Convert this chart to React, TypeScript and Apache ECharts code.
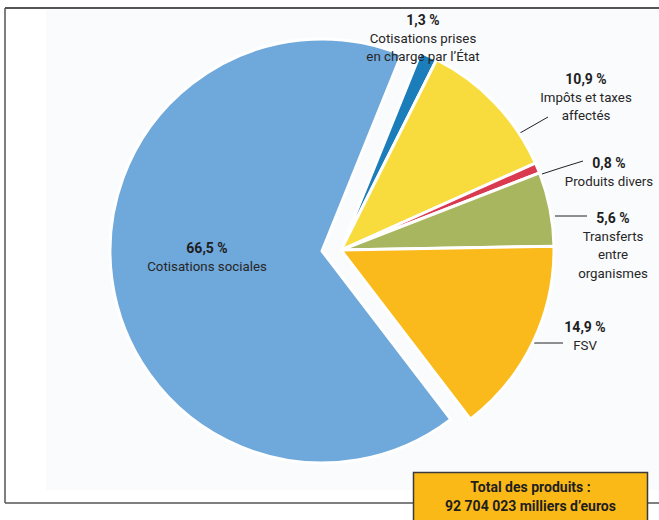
import React, { useEffect, useRef } from "react";
import * as echarts from "echarts";

// ---- data ----
const categories = [
  "Cotisations prises\nen charge par l’État",
  "Impôts et taxes\naffectés",
  "Produits divers",
  "Transferts\nentre\norganismes",
  "FSV",
  "Cotisations sociales",
];
const shares = [1.3, 10.9, 0.8, 5.6, 14.9, 66.5];
const totalLines = ["Total des produits :", "92 704 023 milliers d’euros"];

// ---- styles / layout ----
const colors = ["#1B7DB9", "#F8DC3D", "#DA3A50", "#A8B65F", "#FBBA1B", "#6FA8DB"];
const labelAnchors: number[][] = [
  [423, 10.5],
  [586, 69.5],
  [609, 153.5],
  [613, 208.5],
  [585, 317.5],
  [207, 238.5],
];
const leaderLines: (number[][] | null)[] = [
  null,
  [[520, 133], [534, 125], [548, 117]],
  [[542, 174], [562, 167.5], [583, 161]],
  [[555, 216], [571, 216], [587, 216]],
  [[534, 343], [548, 343], [563, 343]],
  null,
];
const FONT = "Roboto, 'Liberation Sans', sans-serif";
const MAIN = 5; // index of the main (non-exploded) slice

const fmtPct = (v: number) => v.toFixed(1).replace(".", ",") + " %";

function labelText(i: number) {
  const lines = categories[i].split("\n").map((l) => `{n|${l}}`);
  return [`{p|${fmtPct(shares[i])}}`, ...lines].join("\n");
}

const rich = {
  p: { fontFamily: FONT, fontSize: 14, fontWeight: "bold", color: "#1e1e1e", lineHeight: 18.5, align: "center" },
  n: { fontFamily: FONT, fontSize: 13.3, color: "#262626", lineHeight: 18.5, align: "center" },
};

function buildData(showMain: boolean) {
  return shares.map((v, i) => {
    const visible = showMain ? i === MAIN : i !== MAIN;
    return {
      name: categories[i],
      value: v,
      itemStyle: visible
        ? { color: colors[i], borderColor: "#ffffff", borderWidth: 3 }
        : { color: "transparent", borderWidth: 0 },
      label: { show: visible },
      labelLine: { show: visible && !!leaderLines[i] },
    };
  });
}

function makeLayout(params: any) {
  const i = params.dataIndex;
  const res: any = {
    x: labelAnchors[i][0],
    y: labelAnchors[i][1],
    align: "center",
    verticalAlign: "top",
  };
  if (leaderLines[i]) res.labelLinePoints = leaderLines[i];
  return res;
}

const commonSeries = {
  type: "pie",
  startAngle: 68,
  clockwise: true,
  avoidLabelOverlap: false,
  silent: true,
  selectedMode: false,
  label: {
    position: "outside",
    formatter: (p: any) => labelText(p.dataIndex),
    rich,
  },
  labelLine: { lineStyle: { color: "#222", width: 1 }, length: 5, length2: 5 },
  labelLayout: makeLayout,
  emphasis: { disabled: true },
};

export default function App() {
  const ref = useRef<HTMLDivElement>(null);
  useEffect(() => {
    if (!ref.current) return;
    const chart = echarts.init(ref.current, undefined, { renderer: "svg" });
    const boxText = (text: string, y: number) => ({
      type: "text",
      z: 102,
      x: 530.5,
      y,
      style: {
        text,
        fontFamily: FONT,
        fontSize: 14,
        fontWeight: "bold",
        fill: "#1e1e1e",
        align: "center",
        verticalAlign: "middle",
      },
    });
    chart.setOption({
      animation: false,
      backgroundColor: "#ffffff",
      graphic: [
        { type: "rect", z: -10, shape: { x: 46, y: 10, width: 613, height: 480 }, style: { fill: "#FAFBFD" } },
        { type: "line", z: 100, shape: { x1: 5, y1: 8, x2: 659, y2: 8 }, style: { stroke: "#555", lineWidth: 2 } },
        { type: "line", z: 100, shape: { x1: 5, y1: 8, x2: 5, y2: 503 }, style: { stroke: "#555", lineWidth: 1.5 } },
        { type: "line", z: 100, shape: { x1: 5, y1: 503, x2: 659, y2: 503 }, style: { stroke: "#555", lineWidth: 1.5 } },
        {
          type: "rect",
          z: 101,
          shape: { x: 413.5, y: 472.5, width: 234, height: 52 },
          style: { fill: "#FBB917", stroke: "#3a3a3a", lineWidth: 1.5 },
        },
        boxText(totalLines[0], 487),
        boxText(totalLines[1], 506),
      ],
      series: [
        { ...commonSeries, center: [322, 251], radius: 212, data: buildData(true) },
        { ...commonSeries, center: [341, 250], radius: 213, data: buildData(false) },
      ],
    });
    return () => chart.dispose();
  }, []);
  return (
    <div
      ref={ref}
      style={{ position: "fixed", left: 0, top: 0, width: 659, height: 520 }}
    />
  );
}
